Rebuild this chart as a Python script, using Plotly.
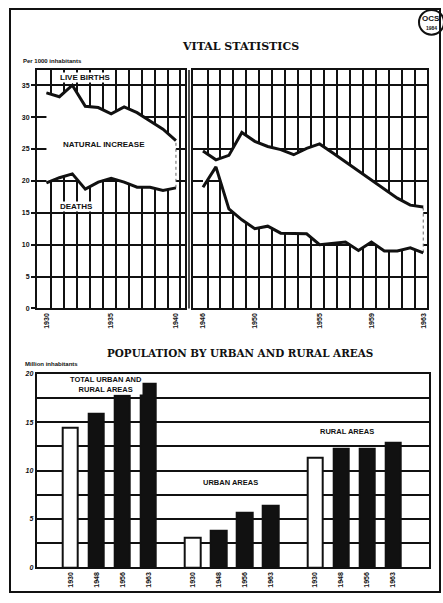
import plotly.graph_objects as go

# ---------------- data ----------------
years_prewar = [1930, 1931, 1932, 1933, 1934, 1935, 1936, 1937, 1938, 1939, 1940]
births_prewar = [33.8, 33.2, 35.0, 31.7, 31.5, 30.5, 31.6, 30.7, 29.4, 28.1, 26.3]
deaths_prewar = [19.7, 20.5, 21.1, 18.7, 19.8, 20.4, 19.8, 19.0, 19.0, 18.5, 18.9]

years_postwar = [1946, 1947, 1948, 1949, 1950, 1951, 1952, 1953, 1954,
                 1955, 1956, 1957, 1958, 1959, 1960, 1961, 1962, 1963]
births_postwar = [24.7, 23.3, 24.0, 27.6, 26.2, 25.4, 24.9, 24.1, 25.1,
                  25.8, 24.4, 23.0, 21.5, 20.1, 18.7, 17.3, 16.2, 15.9]
deaths_postwar = [19.0, 22.2, 15.6, 13.9, 12.5, 12.9, 11.8, 11.7, 11.7,
                  10.0, 10.2, 10.4, 9.1, 10.4, 9.0, 9.0, 9.5, 8.7]

prewar_ticks = [1930, 1935, 1940]
postwar_ticks = [1946, 1950, 1955, 1959, 1963]
rate_ticks = [0, 5, 10, 15, 20, 25, 30, 35]

census_years = ["1930", "1948", "1956", "1963"]
total_pop = [14.4, 15.9, 17.7, 19.0]
urban_pop = [3.1, 3.75, 5.7, 6.4]
rural_pop = [11.3, 12.25, 12.3, 12.85]
pop_ticks = [0, 5, 10, 15, 20]

# ---------------- helpers ----------------
W, H = 443, 603
def px(a):
    return a / W
def py(b):
    return 1 - b / H

SANS = "Liberation Sans Narrow, Liberation Sans, Arial"
SERIF = "DejaVu Serif, Liberation Serif, serif"
BLACK = "#111111"

fig = go.Figure()

# --------- vital statistics (two panels) ---------
def add_panel(years, births, deaths, xa, ya):
    fig.add_trace(go.Scatter(
        x=years + years[::-1], y=births + deaths[::-1],
        fill="toself", fillcolor="white", mode="lines",
        line=dict(color="#666666", width=1, dash="dot"),
        xaxis=xa, yaxis=ya, hoverinfo="skip"))
    fig.add_trace(go.Scatter(x=years, y=births, mode="lines",
                             line=dict(color=BLACK, width=3),
                             xaxis=xa, yaxis=ya))
    fig.add_trace(go.Scatter(x=years, y=deaths, mode="lines",
                             line=dict(color=BLACK, width=3),
                             xaxis=xa, yaxis=ya))

add_panel(years_prewar, births_prewar, deaths_prewar, "x", "y")
add_panel(years_postwar, births_postwar, deaths_postwar, "x2", "y2")

# --------- population bars ---------
GROUP_STEP = 4.7
groups = [total_pop, urban_pop, rural_pop]
bar_x, bar_y, bar_col, tick_x, tick_t = [], [], [], [], []
for g, vals in enumerate(groups):
    for i, v in enumerate(vals):
        bar_x.append(g * GROUP_STEP + i)
        bar_y.append(v)
        bar_col.append("white" if i == 0 else BLACK)
        tick_x.append(g * GROUP_STEP + i)
        tick_t.append(census_years[i])

fig.add_trace(go.Bar(x=bar_x, y=bar_y, width=0.58,
                     marker=dict(color=bar_col, line=dict(color=BLACK, width=2)),
                     xaxis="x3", yaxis="y3"))

axis_line = dict(showline=True, mirror=True, linecolor=BLACK, linewidth=2,
                 zeroline=False)
tickfont = dict(family=SANS, size=7, color=BLACK, weight="bold")
gridstyle = dict(gridcolor=BLACK, gridwidth=2)

top_dom = [py(308), py(66.7)]
grid_pre = [y + 0.35 for y in years_prewar]
grid_post = [y + 0.35 for y in years_postwar[:-1]]

fig.update_layout(
    width=W, height=H, margin=dict(l=0, r=0, t=0, b=0),
    paper_bgcolor="white", plot_bgcolor="white", showlegend=False,
    bargap=0,
    xaxis=dict(domain=[px(37), px(185)], range=[1929.27, 1940.7], anchor="y",
               tickvals=prewar_ticks, ticktext=[str(t) for t in prewar_ticks],
               tickangle=-90, showgrid=False, ticks="", tickfont=tickfont,
               minor=dict(tickvals=grid_pre, showgrid=True, ticks="", **gridstyle),
               **axis_line),
    yaxis=dict(domain=top_dom, range=[0, 37.4], anchor="x",
               tickvals=rate_ticks, showgrid=True, ticks="outside", ticklen=4,
               tickwidth=2, tickcolor=BLACK, tickfont=tickfont, **gridstyle,
               **axis_line),
    xaxis2=dict(domain=[px(193), px(427)], range=[1945.23, 1963.29], anchor="y2",
                tickvals=postwar_ticks, ticktext=[str(t) for t in postwar_ticks],
                tickangle=-90, showgrid=False, ticks="", tickfont=tickfont,
                minor=dict(tickvals=grid_post, showgrid=True, ticks="", **gridstyle),
                **axis_line),
    yaxis2=dict(domain=top_dom, range=[0, 37.4], anchor="x2",
                tickvals=rate_ticks, showticklabels=False, showgrid=True,
                ticks="", **gridstyle, **axis_line),
    xaxis3=dict(domain=[px(36.7), px(429)], range=[-1.3, 13.79], anchor="y3",
                tickvals=tick_x, ticktext=tick_t, tickangle=-90,
                showgrid=False, ticks="", tickfont=tickfont, **axis_line),
    yaxis3=dict(domain=[py(570), py(374)], range=[0, 20], anchor="x3",
                tickvals=pop_ticks, showgrid=True, ticks="",
                tickfont=dict(family=SANS, size=7, color=BLACK, weight="bold",
                              style="italic"),
                minor=dict(dtick=2.5, showgrid=True, ticks="", **gridstyle),
                **gridstyle, **axis_line),
)

# --------- decoration shapes ---------
fig.add_shape(type="rect", xref="paper", yref="paper",
              x0=px(10), x1=px(440), y0=py(595), y1=py(5),
              line=dict(color=BLACK, width=2))
fig.add_shape(type="line", xref="paper", yref="paper",
              x0=px(189), x1=px(189), y0=py(308), y1=py(66.7),
              line=dict(color=BLACK, width=1.5))
fig.add_shape(type="circle", xref="paper", yref="paper",
              x0=px(419), x1=px(444), y0=py(31), y1=py(6),
              line=dict(color=BLACK, width=2))

def ann(text, x, y, size, family=SANS, anchor="center", bg=None, weight="bold"):
    fig.add_annotation(text=text, x=px(x), y=py(y), xref="paper", yref="paper",
                       showarrow=False, xanchor=anchor, yanchor="middle",
                       font=dict(family=family, size=size, color=BLACK, weight=weight),
                       bgcolor=bg, borderpad=0)

ann("OCS", 431, 15, 8)
ann("1984", 431, 24, 5)
ann("VITAL STATISTICS", 240, 43, 11, family=SERIF)
ann("Per 1000 inhabitants", 22, 58, 6, anchor="left")
ann("LIVE BIRTHS", 85, 74, 8, bg="white")
ann("NATURAL INCREASE", 104, 142, 8, bg="white")
ann("DEATHS", 76, 205, 8, bg="white")
ann("POPULATION BY URBAN AND RURAL AREAS", 240, 353, 10.4, family=SERIF)
ann("Million inhabitants", 24, 364, 6, anchor="left")
ann("TOTAL URBAN AND<br>RURAL AREAS", 106, 385, 7.5, bg="white")
ann("URBAN AREAS", 230, 484, 7.5)
ann("RURAL AREAS", 347, 433, 7.5)

fig.write_html(
    "out.html",
    config={"displayModeBar": False},
    post_script="document.body.style.margin='0px';"
                "document.body.style.overflow='hidden';",
)
